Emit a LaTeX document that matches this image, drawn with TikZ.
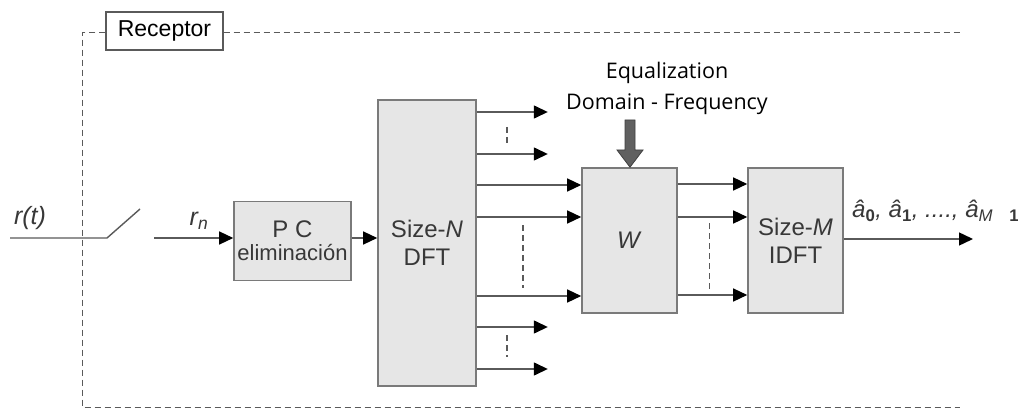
\documentclass[tikz,border=0pt]{standalone}
\usepackage{fontspec}
\setmainfont{Liberation Sans}
\newfontfamily\eqfont{Open Sans}
\usetikzlibrary{arrows.meta,calc}
\definecolor{boxfill}{HTML}{E6E6E6}
\definecolor{boxline}{HTML}{7A7A7A}
\definecolor{wire}{HTML}{5A5A5A}
\definecolor{txt}{HTML}{383838}
\begin{document}
\begin{tikzpicture}[x=1pt,y=-1pt,
  blk/.style={draw=boxline,line width=1.6pt,fill=boxfill,inner sep=0pt,text=txt,align=center,font=\fontsize{24}{28}\selectfont},
  wireline/.style={draw=wire,line width=1.4pt},
  arr/.style={wireline,-{Triangle[length=14pt,width=13pt,color=black]}},
  dots/.style={draw=wire,line width=1.2pt,dash pattern=on 6pt off 4pt},
  frame/.style={draw=wire,line width=1pt,dash pattern=on 6pt off 4pt},
  lbl/.style={inner sep=0pt,text=txt,font=\fontsize{25}{28}\selectfont\itshape}]
\useasboundingbox[fill=white] (0,0) rectangle (1018,409);

% receptor frame
\node[draw=wire,line width=1.2pt,fill=white,minimum width=117pt,minimum height=38pt,inner sep=0pt,font=\fontsize{23}{26}\selectfont,text=black] (rec) at (164.5,31) {Receptor};
\coordinate (ftl) at (82,33);
\coordinate (ftr) at (960,33);
\coordinate (fbl) at (82,407);
\coordinate (fbr) at (960,407);
\draw[frame] (rec.west |- ftl) -- (ftl) -- (fbl) -- (fbr);
\draw[frame] (rec.east |- ftr) -- (ftr);

% blocks
\node[blk,minimum width=117pt,minimum height=79pt] (pc) at (292.5,241) {P C\\[-5pt]{\fontsize{22}{24}\selectfont eliminación}};
\node[blk,minimum width=98pt,minimum height=286pt] (dft) at (427,243) {Size-\textit{N}\\DFT};
\node[blk,minimum width=95pt,minimum height=145pt] (w) at (629.5,240.5) {\textit{W}};
\node[blk,minimum width=95pt,minimum height=145pt] (idft) at (795.5,240.5) {Size-\textit{M}\\IDFT};

% input and switch
\coordinate (in0) at (10,238);
\coordinate (sw0) at (107,238);
\coordinate (sw1) at (140,209);
\coordinate (sw2) at (154,238);
\draw[wireline] (in0) -- (sw0) -- (sw1);
\draw[arr] (sw2) -- (pc.west |- sw2);
\node[lbl] (rt) at (30,218) {r(t)};
\node[lbl] (rn) at (199,221) {r\textsubscript{n}};
\draw[arr] (pc.east |- sw2) -- (dft.west |- sw2);

% DFT outputs
\foreach \yy/\nm in {112/o1,154/o2,327/o6,369/o7}{
  \coordinate (\nm) at (476,\yy);
  \draw[arr] (dft.east |- \nm) -- ++(71,0);
}
\foreach \yy/\nm in {185/o3,217/o4,296/o5}{
  \coordinate (\nm) at (476,\yy);
  \draw[arr] (dft.east |- \nm) -- (w.west |- \nm);
}
\coordinate (d1a) at (507,127); \coordinate (d1b) at (507,143);
\coordinate (d2a) at (523,225); \coordinate (d2b) at (523,288);
\coordinate (d3a) at (507,335); \coordinate (d3b) at (507,357);
\draw[dots] (d1a) -- (d1b);
\draw[dots] (d2a) -- (d2b);
\draw[dots] (d3a) -- (d3b);

% W outputs
\foreach \yy/\nm in {184/p1,217/p2,295/p3}{
  \coordinate (\nm) at (677,\yy);
  \draw[arr] (w.east |- \nm) -- (idft.west |- \nm);
}
\coordinate (d4a) at (709,223); \coordinate (d4b) at (709,290);
\draw[dots,line width=1pt] (d4a) -- (d4b);

% output
\coordinate (out) at (973,239);
\draw[arr] (idft.east |- out) -- (out);
\node[lbl,anchor=west,font=\fontsize{24}{28}\selectfont\itshape] (alab) at (852,211) {\^{a}\textsubscript{\upshape\bfseries 0}, \^{a}\textsubscript{\upshape\bfseries 1}, ...., \^{a}\textsubscript{M\quad\upshape\bfseries 1}};

% equalization label and thick arrow
\node[inner sep=0pt,align=center,font=\eqfont\fontsize{21.5}{31}\selectfont,text=black] (eq) at (667,88) {Equalization\\Domain - Frequency};
\coordinate (ta) at (630,120);
\fill[fill=gray!75!black,draw=gray!50!black,line width=0.8pt]
  ($(ta)+(-5,0)$) -- ($(ta)+(5,0)$) -- ($(ta)+(5,30)$) -- ($(ta)+(13,30)$) -- (w.north -| ta)
  -- ($(ta)+(-13,30)$) -- ($(ta)+(-5,30)$) -- cycle;
\end{tikzpicture}
\end{document}
